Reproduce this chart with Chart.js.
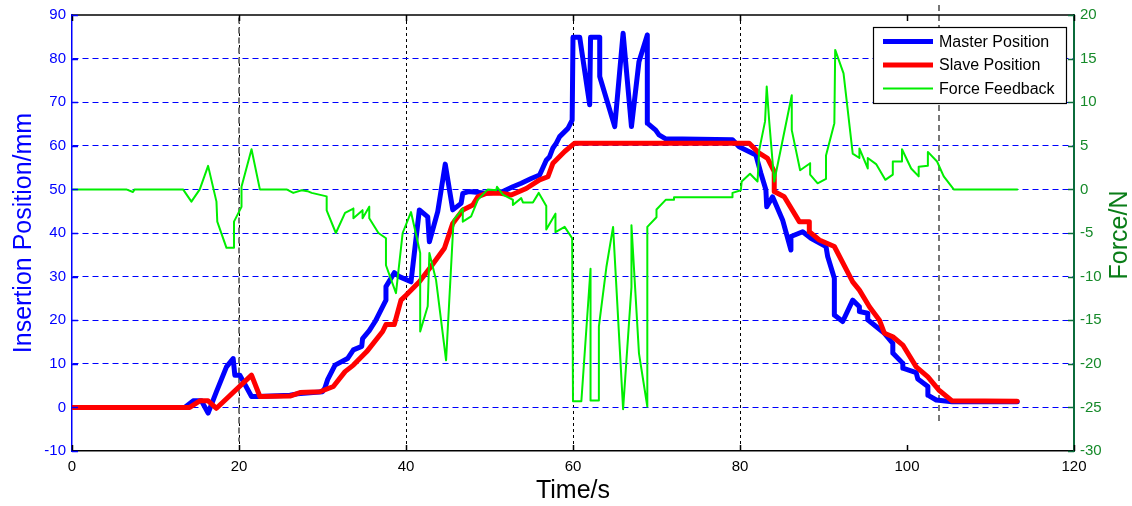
<!DOCTYPE html>
<html>
<head>
<meta charset="utf-8">
<script src="https://cdn.jsdelivr.net/npm/chart.js@4.4.1/dist/chart.umd.min.js"></script>
<style>
  html, body { margin: 0; padding: 0; background: #fff; }
  canvas { display: block; }
</style>
</head>
<body>
<canvas id="chart" width="1132" height="506"></canvas>
<script>
// time (s) / insertion position (mm) for the master
const masterT = [0, 13.5, 14.5, 15.5, 16.3, 17.3, 18.5, 19.3, 19.5, 20.1, 21.5, 22.3, 26.1, 27, 30, 30.3, 30.6, 31.5, 33, 33.7,
  34.7, 34.8, 35.6, 36.3, 37.6, 37.6, 38.6, 39.2, 40.6, 41.6, 42.6, 42.8, 43.8, 44.7, 45.6, 46.6, 46.8, 47.5, 49.6, 51.6,
  52.8, 53.8, 55, 56, 56.8, 57.2, 57.6, 58, 58.4, 59.4, 59.9, 60.0, 60.8, 62, 62.1, 63.2, 63.2, 65, 66, 67,
  67.9, 68.9, 68.9, 69.9, 70.3, 71.1, 79.1, 79.9, 81.9, 82.5, 83.1, 83.2, 83.9, 85.1, 86.1, 86.1, 87.5, 88.5, 90.3, 90.5,
  91.3, 91.3, 92.3, 93.5, 94.3, 94.3, 95.3, 95.3, 97.3, 98.3, 98.3, 99.5, 99.5, 101.1, 101.3, 102.5, 102.5, 103.5, 105.4, 113.2];
const masterPos = [0, 0, 1.5, 1.5, -1.3, 3.6, 9.3, 11.2, 7.4, 7.4, 2.5, 2.5, 2.8, 3.1, 3.6, 4.5, 6.3, 9.7, 11.2, 13.2,
  14, 15.8, 17.6, 19.7, 24.6, 27.7, 30.9, 30.0, 28.8, 45.3, 43.7, 38.0, 44.9, 55.8, 45.3, 46.8, 49.1, 49.5, 49.1, 49.5,
  50.6, 51.4, 52.5, 53.3, 56.7, 57.5, 59.5, 60.6, 62.1, 64, 65.9, 84.9, 84.9, 69.4, 84.9, 84.9, 75.9, 64.4, 85.8, 64.4,
  79.3, 85.4, 65.2, 63.6, 62.5, 61.6, 61.4, 59.8, 57.9, 53.7, 49.9, 46.0, 48.3, 43.0, 36.1, 39.2, 40.3, 38.8, 36.9, 34.6,
  29.6, 21.2, 19.7, 24.6, 23.1, 22.0, 21.6, 20.1, 17.0, 14.7, 12.5, 10.1, 9.0, 8.0, 6.5, 4.8, 2.8, 1.7, 1.3, 1.3];

// time (s) / insertion position (mm) for the slave
const slaveT = [0, 14.1, 15.3, 16.3, 17.3, 21.5, 22.5, 26.1, 27.3, 29.7, 31.3, 32.7, 33.7, 35.3, 37.2, 37.6, 38.6, 39.4, 40, 41.6,
  43, 44.6, 45.6, 46.8, 48, 48.6, 49.6, 51.3, 52.6, 54.4, 56, 57, 57.6, 59, 60.2, 81.1, 82.3, 83.3, 84.1, 84.1,
  85.3, 87.1, 88.3, 88.3, 89.5, 91.3, 93.5, 94.3, 95.5, 96.7, 97.3, 98.3, 99.5, 101.1, 102.5, 103.8, 105.4, 113.2];
const slavePos = [0, 0, 1.5, 1.5, -0.2, 7.4, 2.5, 2.6, 3.4, 3.6, 4.8, 8.2, 9.7, 12.8, 17.4, 19.0, 19.0, 24.6, 25.7, 28.8,
  32.3, 36.5, 42.2, 45.3, 46.4, 48.3, 49.1, 49.1, 48.7, 50.2, 52.2, 52.9, 56.0, 58.7, 60.6, 60.6, 58.3, 57.1, 54.1, 49.5,
  48.3, 42.6, 42.6, 40.3, 38.4, 36.9, 28.8, 26.9, 23.1, 20.0, 17.0, 16.2, 14.3, 9.3, 7.0, 4.0, 1.5, 1.4];

// time (s) / force feedback (N)
const forceT = [0, 6.5, 7.3, 7.5, 13.3, 14.3, 15.3, 16.3, 17.3, 17.4, 18.5, 19.3, 19.4, 20.3, 20.3, 21.5, 22.5, 25.7, 26.5, 27.5,
  28.2, 28.7, 30.5, 30.5, 31.6, 32.7, 33.7, 33.7, 34.8, 34.8, 35.6, 35.6, 36.7, 37.6, 37.6, 38.8, 39.6, 40.6, 41.7, 41.7,
  42.6, 42.8, 43.6, 44.8, 45.7, 46.8, 46.8, 47.8, 48.6, 49.8, 50.8, 50.9, 51.6, 52.8, 52.8, 53.8, 54, 55.2, 55.9, 56.8,
  56.8, 57.9, 57.9, 59, 59.9, 60, 61, 62.1, 62.1, 63.1, 63.1, 64, 64.8, 66, 67, 67, 67.9, 68.9, 68.9, 70,
  70, 71.1, 72.1, 72.1, 79.1, 79.1, 80.1, 80.2, 81.2, 82.1, 82.3, 83, 83.2, 83.5, 84.1, 86.2, 86.2, 87.2, 88.4, 88.4,
  89.3, 90.3, 90.3, 91.3, 91.4, 92.4, 93.5, 94.3, 94.3, 95.3, 95.3, 96.3, 97.4, 98.3, 98.3, 99.4, 99.4, 100.5, 101.4, 101.4,
  102.5, 102.5, 103.6, 104.4, 105.6, 113.2];
const forceN = [0, 0, -0.3, 0, 0, -1.4, 0, 2.7, -1.4, -3.7, -6.7, -6.7, -3.7, -2.0, 0.3, 4.6, 0, 0, -0.4, -0.1,
  -0.2, -0.4, -0.8, -2.4, -5.0, -2.7, -2.2, -3.3, -2.4, -3.3, -2.0, -3.3, -5.0, -5.6, -8.7, -11.9, -5.0, -2.6, -7.3, -16.3,
  -13.4, -7.3, -10.4, -19.6, -3.5, -2.2, -3.7, -3.1, -1.2, 0, -0.1, 0.3, -0.6, -1.2, -1.8, -1.0, -1.5, -1.5, -0.4, -1.9,
  -4.6, -2.8, -4.9, -4.3, -5.6, -24.3, -24.3, -9.1, -24.2, -24.2, -15.7, -8.9, -4.3, -25.2, -11.2, -4.1, -18.8, -24.9, -4.3, -3.2,
  -2.3, -1.2, -1.2, -0.9, -0.9, -0.4, -0.1, 0.9, 1.8, 0.9, 4.5, 7.8, 11.8, 7.8, 0.9, 10.8, 6.8, 2.2, 3.0, 1.7,
  0.7, 1.2, 3.9, 7.6, 16.0, 13.3, 4.1, 3.6, 4.7, 2.4, 3.6, 2.9, 1.1, 1.7, 3.2, 3.2, 4.6, 2.4, 1.5, 2.6,
  2.7, 4.3, 3.2, 1.5, 0, 0];

// dashed marker lines: time and vertical extent (in mm units of the left axis)
const markerT = [20, 103.8];
const markerFrom = [-7.8, -3.2];
const markerTo = [89.4, 92.3];

const xTicks = [0, 20, 40, 60, 80, 100, 120];
const xGridShown = [20, 40, 60, 80];

const toPoints = (ts, vs) => ts.map((t, i) => ({ x: t, y: vs[i] }));

const FONT = "'Liberation Sans', Arial, sans-serif";
const POS_BLUE = '#0000ff';
const AXIS_GREEN = '#0b6b3b';
const LABEL_GREEN = '#168a2a';
const TITLE_GREEN = '#0a7d18';

const framePlugin = {
    id: 'frame',
    beforeDatasetsDraw(chart) {
        const { ctx, scales: { x, y } } = chart;
        ctx.save();
        ctx.strokeStyle = '#777777';
        ctx.lineWidth = 2;
        ctx.setLineDash([6, 4]);
        markerT.forEach((t, i) => {
            const px = Math.round(x.getPixelForValue(t));
            ctx.beginPath();
            ctx.moveTo(px, y.getPixelForValue(markerTo[i]));
            ctx.lineTo(px, y.getPixelForValue(markerFrom[i]));
            ctx.stroke();
        });
        ctx.restore();
    },
    afterDraw(chart) {
        const { ctx, chartArea: a, scales: { x, y, y1 } } = chart;
        const len = 6;
        ctx.save();
        ctx.setLineDash([]);
        ctx.lineWidth = 1.5;
        // top border
        ctx.strokeStyle = '#000';
        ctx.beginPath();
        ctx.moveTo(a.left, a.top);
        ctx.lineTo(a.right, a.top);
        ctx.stroke();
        // inward tick marks
        x.ticks.forEach(t => {
            const px = Math.round(x.getPixelForValue(t.value)) + 0.5;
            ctx.beginPath();
            ctx.moveTo(px, a.bottom);
            ctx.lineTo(px, a.bottom - len);
            ctx.moveTo(px, a.top);
            ctx.lineTo(px, a.top + len);
            ctx.stroke();
        });
        ctx.strokeStyle = POS_BLUE;
        y.ticks.forEach(t => {
            const py = Math.round(y.getPixelForValue(t.value)) + 0.5;
            ctx.beginPath();
            ctx.moveTo(a.left, py);
            ctx.lineTo(a.left + len, py);
            ctx.stroke();
        });
        ctx.strokeStyle = AXIS_GREEN;
        y1.ticks.forEach(t => {
            const py = Math.round(y1.getPixelForValue(t.value)) + 0.5;
            ctx.beginPath();
            ctx.moveTo(a.right, py);
            ctx.lineTo(a.right - len, py);
            ctx.stroke();
        });
        // right axis title, reading bottom to top
        ctx.translate(1120, (a.top + a.bottom) / 2 + 2);
        ctx.rotate(-Math.PI / 2);
        ctx.font = '25px ' + FONT;
        ctx.fillStyle = TITLE_GREEN;
        ctx.textAlign = 'center';
        ctx.textBaseline = 'middle';
        ctx.fillText('Force/N', 0, 0);
        ctx.restore();
    }
};

const legendPlugin = {
    id: 'boxLegend',
    afterDraw(chart) {
        const { ctx } = chart;
        const bx = 873, by = 27, bw = 193, bh = 76;
        ctx.save();
        ctx.fillStyle = '#fff';
        ctx.fillRect(bx, by, bw, bh);
        ctx.strokeStyle = '#000';
        ctx.lineWidth = 1.2;
        ctx.setLineDash([]);
        ctx.strokeRect(bx + 0.5, by + 0.5, bw, bh);
        ctx.font = '16px ' + FONT;
        ctx.textBaseline = 'middle';
        ctx.fillStyle = '#000';
        const rows = [41.5, 65, 88.5];
        chart.data.datasets.forEach((ds, i) => {
            const ry = rows[i];
            ctx.strokeStyle = ds.borderColor;
            ctx.lineWidth = ds.borderWidth;
            ctx.beginPath();
            ctx.moveTo(883, ry);
            ctx.lineTo(933, ry);
            ctx.stroke();
            ctx.fillText(ds.label, 939, ry + 1);
        });
        ctx.restore();
    }
};

new Chart(document.getElementById('chart').getContext('2d'), {
    type: 'line',
    data: {
        datasets: [
            {
                label: 'Master Position',
                data: toPoints(masterT, masterPos),
                borderColor: POS_BLUE,
                borderWidth: 5,
                yAxisID: 'y',
                order: 2
            },
            {
                label: 'Slave Position',
                data: toPoints(slaveT, slavePos),
                borderColor: '#ff0000',
                borderWidth: 5,
                yAxisID: 'y',
                order: 1
            },
            {
                label: 'Force Feedback',
                data: toPoints(forceT, forceN),
                borderColor: '#00ee00',
                borderWidth: 2,
                yAxisID: 'y1',
                order: 0
            }
        ]
    },
    options: {
        responsive: false,
        animation: false,
        layout: { padding: { top: 15, left: 0, right: 0, bottom: 0 } },
        elements: {
            point: { radius: 0 },
            line: { tension: 0, borderJoinStyle: 'round', borderCapStyle: 'round', fill: false }
        },
        plugins: {
            legend: { display: false },
            tooltip: { enabled: false }
        },
        scales: {
            x: {
                type: 'linear',
                min: 0,
                max: 120,
                afterFit: s => { s.height = 55; },
                afterBuildTicks: s => { s.ticks = xTicks.map(v => ({ value: v })); },
                grid: {
                    drawTicks: false,
                    lineWidth: 1,
                    color: c => (c.tick && xGridShown.includes(c.tick.value)) ? '#000' : 'rgba(0,0,0,0)'
                },
                border: { display: true, color: '#000', width: 1.5, dash: [3, 3] },
                ticks: {
                    color: '#000',
                    padding: 7,
                    maxRotation: 0,
                    font: { family: FONT, size: 15 }
                },
                title: {
                    display: true,
                    text: 'Time/s',
                    color: '#000',
                    padding: { top: 0, bottom: 0 },
                    font: { family: FONT, size: 25 }
                }
            },
            y: {
                position: 'left',
                min: -10,
                max: 90,
                afterFit: s => { s.width = 72; },
                ticks: {
                    stepSize: 10,
                    color: POS_BLUE,
                    padding: 6,
                    font: { family: FONT, size: 15 }
                },
                grid: {
                    drawTicks: false,
                    lineWidth: 1,
                    color: c => (c.tick && (c.tick.value === -10 || c.tick.value === 90)) ? 'rgba(0,0,0,0)' : POS_BLUE
                },
                border: { display: true, color: POS_BLUE, width: 1.5, dash: [6, 4] },
                title: {
                    display: true,
                    text: 'Insertion Position/mm',
                    color: POS_BLUE,
                    padding: { top: 9, bottom: 0 },
                    font: { family: FONT, size: 25 }
                }
            },
            y1: {
                position: 'right',
                min: -30,
                max: 20,
                afterFit: s => { s.width = 58; },
                ticks: {
                    stepSize: 5,
                    color: LABEL_GREEN,
                    padding: 6,
                    font: { family: FONT, size: 15 }
                },
                grid: { display: false, drawTicks: false },
                border: { display: true, color: AXIS_GREEN, width: 2 },
                title: { display: false }
            }
        }
    },
    plugins: [framePlugin, legendPlugin]
});
</script>
</body>
</html>
